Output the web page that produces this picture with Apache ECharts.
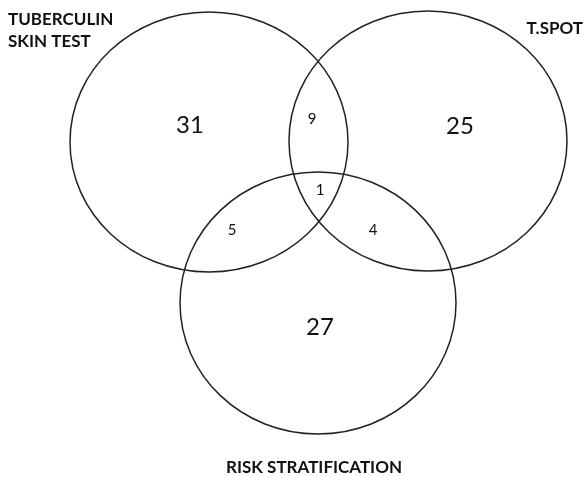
<!DOCTYPE html>
<html>
<head>
<meta charset="utf-8">
<script src="https://cdn.jsdelivr.net/npm/echarts@6/dist/echarts.min.js"></script>
<style>html,body{margin:0;padding:0;background:#fff}#c{width:587px;height:477px}</style>
</head>
<body>
<div id="c"></div>
<script>
// ---- data ----
const setNames = ['TUBERCULIN\nSKIN TEST', 'T.SPOT', 'RISK STRATIFICATION'];
const regionNames = ['TST only', 'T.SPOT only', 'Risk only', 'TST & T.SPOT', 'TST & Risk', 'T.SPOT & Risk', 'All three'];
const regionCounts = [31, 25, 27, 9, 5, 4, 1];

// ---- layout (pixel-like data units on hidden axes) ----
const ellipseLayout = [ // [cx, cy, rx, ry]
  [209, 142, 139, 130],
  [428, 141, 139, 130],
  [318, 303, 138, 131]
];
const setLabelLayout = [ // [x, y, align]
  [8, 31, 'left'],
  [583, 29, 'right'],
  [314, 468, 'center']
];
const regionLabelLayout = [ // [x, y, fontSize]
  [190, 125, 24], [460, 126, 24], [320, 327, 24],
  [312, 119, 15], [232, 230, 15], [373, 230, 15], [320, 190, 15]
];

const FONT = 'Lato, "Open Sans", sans-serif';
const chart = echarts.init(document.getElementById('c'), null, {renderer: 'canvas'});

const ellipseData = ellipseLayout.map((e, i) => ({name: setNames[i], value: e}));
const regionData = regionCounts.map((v, i) => ({name: regionNames[i], value: [regionLabelLayout[i][0], regionLabelLayout[i][1], v, regionLabelLayout[i][2]]}));
const setLabelData = setNames.map((n, i) => ({name: n, value: [setLabelLayout[i][0], setLabelLayout[i][1], i]}));

chart.setOption({
  animation: false,
  backgroundColor: '#ffffff',
  grid: {left: 0, right: 0, top: 0, bottom: 0},
  xAxis: {type: 'value', min: 0, max: 587, show: false},
  yAxis: {type: 'value', min: 0, max: 477, inverse: true, show: false},
  series: [
    {
      type: 'custom',
      coordinateSystem: 'cartesian2d',
      data: ellipseData,
      renderItem: function (params, api) {
        const c = api.coord([api.value(0), api.value(1)]);
        const s = api.size([api.value(2), api.value(3)]);
        return {
          type: 'ellipse',
          shape: {cx: c[0], cy: c[1], rx: s[0], ry: s[1]},
          style: {fill: 'none', stroke: '#222222', lineWidth: 1.5}
        };
      }
    },
    {
      type: 'custom',
      coordinateSystem: 'cartesian2d',
      data: regionData,
      renderItem: function (params, api) {
        const c = api.coord([api.value(0), api.value(1)]);
        return {
          type: 'text',
          x: c[0], y: c[1],
          style: {
            text: String(api.value(2)),
            font: api.value(3) + 'px ' + FONT,
            fill: '#111111',
            align: 'center',
            verticalAlign: 'middle'
          }
        };
      }
    },
    {
      type: 'custom',
      coordinateSystem: 'cartesian2d',
      data: setLabelData,
      renderItem: function (params, api) {
        const c = api.coord([api.value(0), api.value(1)]);
        const i = params.dataIndex;
        return {
          type: 'text',
          x: c[0], y: c[1],
          style: {
            text: setNames[i],
            font: 'bold 17px ' + FONT,
            lineHeight: 22,
            fill: '#111111',
            align: setLabelLayout[i][2],
            verticalAlign: 'middle'
          }
        };
      }
    }
  ]
});
</script>
</body>
</html>
